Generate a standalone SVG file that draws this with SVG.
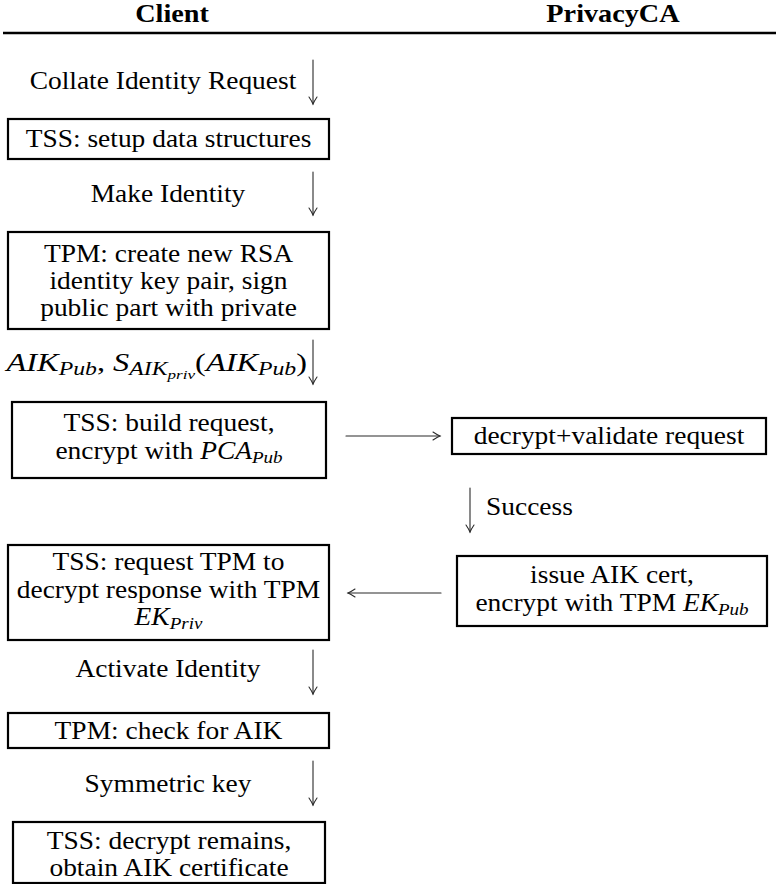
<svg xmlns="http://www.w3.org/2000/svg" width="776" height="884" viewBox="0 0 776 884">
  <style>
    .t { font-size: 24.5px; fill: #000; }
    .h { font-size: 25px; font-weight: bold; fill: #000; }
    .m { font-style: italic; }
    .box { fill: #fff; stroke: #000; stroke-width: 2.2; }
    .arr { fill: none; stroke: #2a2a2a; stroke-width: 1.1; stroke-linecap: round; }
  </style>
  <defs>
    <!-- open, slightly curved arrow tip like a typeset \downarrow -->
    <marker id="tip" viewBox="-8 -8 16 16" markerWidth="16" markerHeight="16" refX="0" refY="0" orient="auto" markerUnits="userSpaceOnUse">
      <path d="M-7,-4 Q-2.5,-1 0,0 Q-2.5,1 -7,4" fill="none" stroke="#2a2a2a" stroke-width="1.1" stroke-linecap="round"/>
    </marker>
  </defs>

  <rect width="776" height="884" fill="#fff"/>

  <!-- column headers; each text line is widened slightly with a horizontal scale -->
  <g id="header">
    <g transform="translate(172 22) scale(1.13 1)"><text class="h" font-family="Liberation Serif" text-anchor="middle">Client</text></g>
    <g transform="translate(613 22) scale(1.13 1)"><text class="h" font-family="Liberation Serif" text-anchor="middle">PrivacyCA</text></g>
    <line x1="3" y1="33" x2="776" y2="33" stroke="#000" stroke-width="2.4"/>
  </g>

  <!-- client side steps -->
  <g id="setup">
    <rect class="box" x="8" y="119" width="321" height="40"/>
    <g transform="translate(168.5 147) scale(1.12 1)"><text class="t" font-family="Liberation Serif" text-anchor="middle">TSS: setup data structures</text></g>
  </g>

  <g id="create-key">
    <rect class="box" x="8" y="232" width="321" height="97"/>
    <g transform="translate(168.5 262) scale(1.12 1)"><text class="t" font-family="Liberation Serif" text-anchor="middle">TPM: create new RSA</text></g>
    <g transform="translate(168.5 289) scale(1.12 1)"><text class="t" font-family="Liberation Serif" text-anchor="middle">identity key pair, sign</text></g>
    <g transform="translate(168.5 316) scale(1.12 1)"><text class="t" font-family="Liberation Serif" text-anchor="middle">public part with private</text></g>
  </g>

  <g id="build-request">
    <rect class="box" x="12" y="402" width="314" height="76"/>
    <g transform="translate(169 431) scale(1.12 1)"><text class="t" font-family="Liberation Serif" text-anchor="middle">TSS: build request,</text></g>
    <g transform="translate(169 459) scale(1.12 1)"><text class="t" font-family="Liberation Serif" text-anchor="middle">encrypt with <tspan class="m">PCA</tspan><tspan class="m" font-size="17" dy="4">Pub</tspan></text></g>
  </g>

  <g id="decrypt-response">
    <rect class="box" x="8" y="545" width="321" height="95"/>
    <g transform="translate(168.5 570) scale(1.12 1)"><text class="t" font-family="Liberation Serif" text-anchor="middle">TSS: request TPM to</text></g>
    <g transform="translate(168.5 598) scale(1.12 1)"><text class="t" font-family="Liberation Serif" text-anchor="middle">decrypt response with TPM</text></g>
    <g transform="translate(168.5 625) scale(1.12 1)"><text class="t" font-family="Liberation Serif" text-anchor="middle"><tspan class="m">EK</tspan><tspan class="m" font-size="17" dy="4">Priv</tspan></text></g>
  </g>

  <g id="check-aik">
    <rect class="box" x="8" y="713" width="321" height="35"/>
    <g transform="translate(168.5 739) scale(1.12 1)"><text class="t" font-family="Liberation Serif" text-anchor="middle">TPM: check for AIK</text></g>
  </g>

  <g id="obtain-cert">
    <rect class="box" x="13" y="822" width="312" height="61"/>
    <g transform="translate(169 849) scale(1.12 1)"><text class="t" font-family="Liberation Serif" text-anchor="middle">TSS: decrypt remains,</text></g>
    <g transform="translate(169 876) scale(1.12 1)"><text class="t" font-family="Liberation Serif" text-anchor="middle">obtain AIK certificate</text></g>
  </g>

  <!-- PrivacyCA side steps -->
  <g id="validate">
    <rect class="box" x="452" y="418" width="314" height="36"/>
    <g transform="translate(609 444) scale(1.12 1)"><text class="t" font-family="Liberation Serif" text-anchor="middle">decrypt+validate request</text></g>
  </g>

  <g id="issue-cert">
    <rect class="box" x="457" y="556" width="310" height="70"/>
    <g transform="translate(612 583) scale(1.12 1)"><text class="t" font-family="Liberation Serif" text-anchor="middle">issue AIK cert,</text></g>
    <g transform="translate(612 611) scale(1.12 1)"><text class="t" font-family="Liberation Serif" text-anchor="middle">encrypt with TPM <tspan class="m">EK</tspan><tspan class="m" font-size="17" dy="4">Pub</tspan></text></g>
  </g>

  <!-- connectors and their labels -->
  <g id="connectors">
    <line class="arr" x1="313" y1="60" x2="313" y2="104" marker-end="url(#tip)"/>
    <g transform="translate(163 89) scale(1.12 1)"><text class="t" font-family="Liberation Serif" text-anchor="middle">Collate Identity Request</text></g>

    <line class="arr" x1="313" y1="172" x2="313" y2="215" marker-end="url(#tip)"/>
    <g transform="translate(168 202) scale(1.12 1)"><text class="t" font-family="Liberation Serif" text-anchor="middle">Make Identity</text></g>

    <line class="arr" x1="313" y1="340" x2="313" y2="384" marker-end="url(#tip)"/>
    <g transform="translate(307 371) scale(1.32 1)"><text class="t m" font-family="Liberation Serif" font-size="26.5" text-anchor="end">AIK<tspan font-size="18" dy="4">Pub</tspan><tspan dy="-4" font-style="normal">, </tspan>S<tspan font-size="18" dy="4">AIK</tspan><tspan font-size="13" dy="4">priv</tspan><tspan dy="-8" font-style="normal">(</tspan>AIK<tspan font-size="18" dy="4">Pub</tspan><tspan dy="-4" font-style="normal">)</tspan></text></g>

    <line class="arr" x1="346" y1="436" x2="440" y2="436" marker-end="url(#tip)"/>

    <line class="arr" x1="470" y1="488" x2="470" y2="532" marker-end="url(#tip)"/>
    <g transform="translate(486 515) scale(1.12 1)"><text class="t" font-family="Liberation Serif">Success</text></g>

    <line class="arr" x1="441" y1="593" x2="348" y2="593" marker-end="url(#tip)"/>

    <line class="arr" x1="313" y1="650" x2="313" y2="694" marker-end="url(#tip)"/>
    <g transform="translate(168 677) scale(1.12 1)"><text class="t" font-family="Liberation Serif" text-anchor="middle">Activate Identity</text></g>

    <line class="arr" x1="313" y1="761" x2="313" y2="805" marker-end="url(#tip)"/>
    <g transform="translate(168 792) scale(1.12 1)"><text class="t" font-family="Liberation Serif" text-anchor="middle">Symmetric key</text></g>
  </g>
</svg>
